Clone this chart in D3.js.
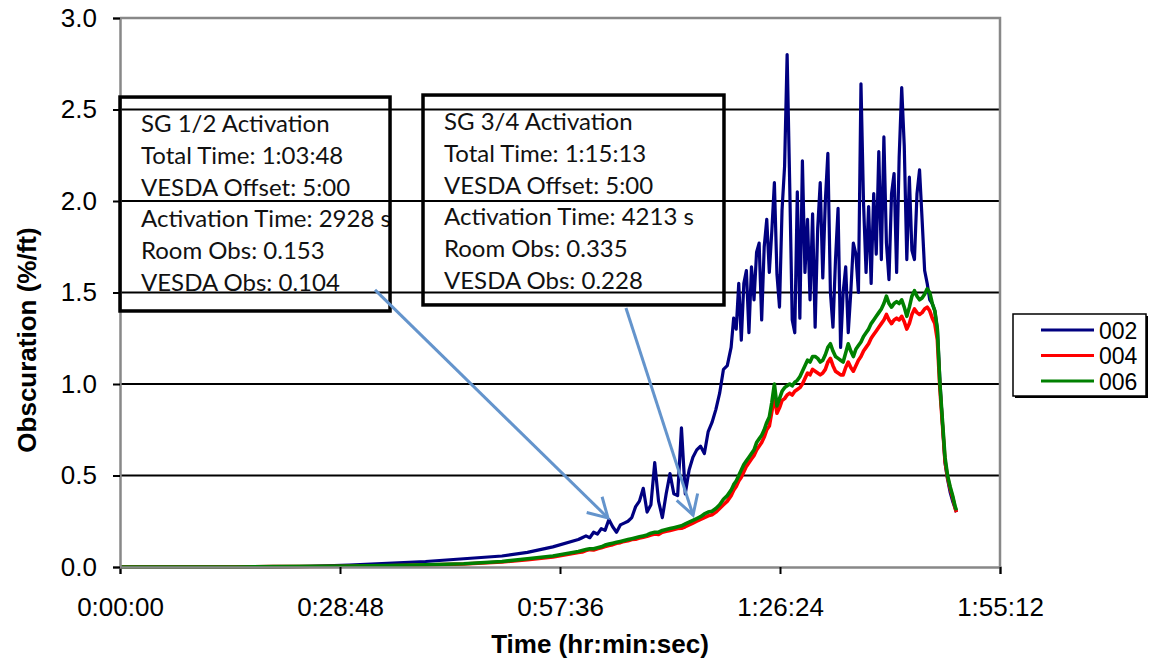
<!DOCTYPE html>
<html>
<head>
<meta charset="utf-8">
<script src="https://cdn.jsdelivr.net/npm/d3@7"></script>
<style>
  body { margin: 0; background: #ffffff; }
  svg { display: block; }
</style>
</head>
<body>
<svg id="chart" width="1157" height="660"></svg>
<script>
// Sample times (seconds from start of test)
const timeSec = [
  0, 300, 600, 900, 1200, 1500, 1800, 2100, 2400, 2700, 3000, 3200, 3400, 3600,
  3630, 3660, 3690, 3720, 3750, 3780, 3810, 3840, 3870, 3900,
  3930, 3960, 3990, 4020, 4050, 4080, 4110, 4140, 4170, 4200,
  4230, 4260, 4290, 4320, 4350, 4380, 4410, 4440, 4470, 4500,
  4530, 4560, 4590, 4620, 4650, 4680, 4710, 4740, 4770, 4800,
  4820, 4840, 4860, 4880, 4900, 4920, 4940, 4960, 4980, 5000,
  5020, 5040, 5060, 5080, 5100, 5120, 5140, 5160, 5180, 5200,
  5220, 5240, 5260, 5280, 5300, 5320, 5340, 5360, 5380, 5400,
  5420, 5440, 5460, 5480, 5500, 5520, 5540, 5560, 5580, 5600,
  5620, 5640, 5660, 5680, 5700, 5720, 5740, 5760, 5780, 5800,
  5820, 5840, 5860, 5880, 5900, 5920, 5940, 5960, 5980, 6000,
  6020, 6040, 6060, 6080, 6100, 6120, 6140, 6160, 6180, 6200,
  6220, 6240, 6260, 6280, 6300, 6320, 6340, 6360, 6380, 6400,
  6420, 6440, 6460, 6480, 6500, 6520, 6540, 6560, 6570
];

// Obscuration (%/ft), detector 002
const obs002 = [
  0, 0, 0, 0, 0, 0.003, 0.01, 0.02, 0.03, 0.045, 0.06, 0.08, 0.11, 0.15,
  0.16, 0.17, 0.16, 0.19, 0.18, 0.21, 0.20, 0.26, 0.22, 0.19,
  0.23, 0.24, 0.25, 0.27, 0.33, 0.36, 0.43, 0.30, 0.34, 0.57,
  0.36, 0.27, 0.40, 0.51, 0.40, 0.39, 0.76, 0.40, 0.53, 0.60,
  0.64, 0.66, 0.62, 0.74, 0.79, 0.86, 0.95, 1.08, 1.10, 1.20,
  1.36, 1.30, 1.55, 1.24, 1.55, 1.62, 1.28, 1.64, 1.46, 1.72,
  1.77, 1.35, 1.75, 1.90, 1.61, 1.84, 2.10, 1.60, 1.42, 1.95,
  2.19, 2.80, 2.10, 1.35, 1.28, 2.05, 1.36, 2.22, 1.61, 1.90,
  1.46, 1.93, 1.31, 1.85, 2.10, 1.58, 2.00, 2.26, 1.50, 1.31,
  1.68, 1.96, 1.20, 1.50, 1.64, 1.28, 1.50, 1.77, 1.71, 1.50,
  2.64, 1.99, 1.61, 1.97, 1.55, 2.04, 1.71, 2.27, 1.68, 2.35,
  1.77, 1.57, 2.04, 2.15, 1.61, 2.24, 2.62, 2.30, 1.68, 2.13,
  1.73, 1.68, 2.04, 2.17, 1.90, 1.62, 1.55, 1.46, 1.44, 1.40,
  1.30, 1.02, 0.78, 0.57, 0.48, 0.41, 0.36, 0.32, 0.30
];

// Obscuration (%/ft), detector 004
const obs004 = [
  0, 0, 0, 0, 0.002, 0.003, 0.004, 0.007, 0.011, 0.016, 0.027, 0.04, 0.055, 0.08,
  0.082, 0.09, 0.095, 0.093, 0.10, 0.105, 0.112, 0.118, 0.122, 0.13,
  0.133, 0.14, 0.143, 0.15, 0.152, 0.158, 0.163, 0.168, 0.175, 0.18,
  0.178, 0.19, 0.195, 0.20, 0.205, 0.21, 0.212, 0.22, 0.23, 0.24,
  0.25, 0.26, 0.27, 0.28, 0.285, 0.30, 0.32, 0.34, 0.36, 0.39,
  0.42, 0.44, 0.47, 0.49, 0.52, 0.55, 0.57, 0.59, 0.61, 0.64,
  0.66, 0.68, 0.71, 0.75, 0.77, 0.85, 0.93, 0.84, 0.87, 0.91,
  0.92, 0.94, 0.95, 0.94, 0.96, 0.97, 0.98, 1.00, 1.03, 1.06,
  1.05, 1.08, 1.07, 1.06, 1.05, 1.06, 1.08, 1.12, 1.14, 1.10,
  1.07, 1.06, 1.05, 1.05, 1.09, 1.12, 1.09, 1.07, 1.10, 1.13,
  1.15, 1.18, 1.20, 1.22, 1.25, 1.27, 1.29, 1.31, 1.33, 1.35,
  1.38, 1.35, 1.33, 1.35, 1.36, 1.35, 1.37, 1.34, 1.30, 1.33,
  1.38, 1.41, 1.39, 1.38, 1.39, 1.41, 1.42, 1.40, 1.36, 1.33,
  1.24, 0.97, 0.78, 0.58, 0.49, 0.43, 0.38, 0.32, 0.30
];

// Obscuration (%/ft), detector 006
const obs006 = [
  0, 0, 0, 0, 0.002, 0.004, 0.005, 0.008, 0.012, 0.018, 0.03, 0.045, 0.06, 0.085,
  0.09, 0.095, 0.10, 0.10, 0.105, 0.11, 0.12, 0.125, 0.13, 0.135,
  0.14, 0.145, 0.15, 0.155, 0.16, 0.165, 0.17, 0.175, 0.185, 0.19,
  0.19, 0.20, 0.205, 0.21, 0.215, 0.22, 0.225, 0.235, 0.245, 0.255,
  0.265, 0.275, 0.29, 0.30, 0.305, 0.32, 0.34, 0.37, 0.39, 0.42,
  0.45, 0.47, 0.50, 0.53, 0.56, 0.58, 0.60, 0.62, 0.64, 0.68,
  0.70, 0.72, 0.75, 0.79, 0.82, 0.90, 1.00, 0.88, 0.92, 0.96,
  0.98, 0.99, 1.00, 0.99, 1.01, 1.02, 1.04, 1.07, 1.10, 1.13,
  1.12, 1.15, 1.15, 1.14, 1.12, 1.13, 1.16, 1.20, 1.22, 1.18,
  1.15, 1.14, 1.13, 1.12, 1.17, 1.22, 1.18, 1.15, 1.19, 1.21,
  1.23, 1.26, 1.28, 1.30, 1.33, 1.35, 1.37, 1.39, 1.41, 1.44,
  1.48, 1.44, 1.42, 1.44, 1.45, 1.44, 1.46, 1.42, 1.37, 1.42,
  1.48, 1.51, 1.48, 1.46, 1.47, 1.49, 1.52, 1.50, 1.44, 1.40,
  1.30, 1.00, 0.80, 0.60, 0.50, 0.44, 0.39, 0.33, 0.31
];

const seriesNames = ["002", "004", "006"];
const xTickValues = [0, 1728, 3456, 5184, 6912];
const xTickLabels = ["0:00:00", "0:28:48", "0:57:36", "1:26:24", "1:55:12"];
const yTickValues = [0, 0.5, 1.0, 1.5, 2.0, 2.5, 3.0];

// Activation call-outs: text lines, box extent (time / obscuration) and arrow tail/tip
const sg12Lines = ["SG 1/2 Activation", "Total Time: 1:03:48", "VESDA Offset: 5:00",
                   "Activation Time: 2928 s", "Room Obs: 0.153", "VESDA Obs: 0.104"];
const sg34Lines = ["SG 3/4 Activation", "Total Time: 1:15:13", "VESDA Offset: 5:00",
                   "Activation Time: 4213 s", "Room Obs: 0.335", "VESDA Obs: 0.228"];
const callouts = [
  { lines: sg12Lines, box: [0, 2121, 2.568, 1.399], tail: [2003, 1.514], tip: [3833, 0.268] },
  { lines: sg34Lines, box: [2380, 4744, 2.579, 1.432], tail: [3974, 1.415], tip: [4501, 0.284] }
];

const colors = { "002": "#000080", "004": "#ff0000", "006": "#008000" };
const values = { "002": obs002, "004": obs004, "006": obs006 };

const svg = d3.select("#chart");
const plot = { left: 120, top: 18, right: 1000, bottom: 567 };

const x = d3.scaleLinear().domain([0, 6912]).range([plot.left, plot.right]);
const y = d3.scaleLinear().domain([0, 3]).range([plot.bottom, plot.top]);

svg.append("rect").attr("width", 1157).attr("height", 660).attr("fill", "#ffffff");

// Horizontal gridlines
svg.append("g")
  .selectAll("line")
  .data(yTickValues.filter(v => v > 0 && v < 3))
  .join("line")
  .attr("x1", plot.left).attr("x2", plot.right)
  .attr("y1", d => y(d)).attr("y2", d => y(d))
  .attr("stroke", "#000").attr("stroke-width", 2);

// Plot area frame (top and right)
svg.append("path")
  .attr("d", `M${plot.left},${y(3)}H${plot.right}V${plot.bottom}`)
  .attr("fill", "none").attr("stroke", "#888").attr("stroke-width", 2.5);

// Series lines
const line = d3.line().x((d, i) => x(timeSec[i])).y(d => y(d));
const seriesG = svg.append("g");
seriesNames.forEach(name => {
  seriesG.append("path")
    .datum(values[name])
    .attr("d", line)
    .attr("fill", "none")
    .attr("stroke", colors[name])
    .attr("stroke-width", name === "002" ? 3.2 : 3.6)
    .attr("stroke-linejoin", "round");
});

// Axes
const xAxis = d3.axisBottom(x)
  .tickValues(xTickValues)
  .tickFormat((d, i) => xTickLabels[i])
  .tickSize(7).tickPadding(24);
const gx = svg.append("g").attr("transform", `translate(0,${plot.bottom})`).call(xAxis);
gx.select(".domain").attr("stroke", "#888").attr("stroke-width", 2.5);
gx.selectAll(".tick line").attr("stroke", "#000").attr("stroke-width", 2);
gx.selectAll(".tick text")
  .attr("font-family", "'Liberation Sans', Arial, sans-serif")
  .attr("font-size", 26).attr("fill", "#000");

const yAxis = d3.axisLeft(y)
  .tickValues(yTickValues)
  .tickFormat(d3.format(".1f"))
  .tickSize(7).tickPadding(16);
const gy = svg.append("g").attr("transform", `translate(${plot.left},0)`).call(yAxis);
gy.select(".domain").attr("stroke", "#888").attr("stroke-width", 2.5);
gy.selectAll(".tick line").attr("stroke", "#000").attr("stroke-width", 2);
gy.selectAll(".tick text")
  .attr("font-family", "'Liberation Sans', Arial, sans-serif")
  .attr("font-size", 26).attr("fill", "#000");

// Axis titles
svg.append("text")
  .attr("transform", "translate(36,340) rotate(-90)")
  .attr("text-anchor", "middle")
  .attr("font-family", "'Liberation Sans', Arial, sans-serif")
  .attr("font-weight", "bold").attr("font-size", 26)
  .text("Obscuration (%/ft)");

svg.append("text")
  .attr("x", 600).attr("y", 653)
  .attr("text-anchor", "middle")
  .attr("font-family", "'Liberation Sans', Arial, sans-serif")
  .attr("font-weight", "bold").attr("font-size", 26)
  .text("Time (hr:min:sec)");

// Call-out boxes and arrows
const defs = svg.append("defs");
callouts.forEach((c, k) => {
  const [t0, t1, v0, v1] = c.box;
  const bx = x(t0), by = y(v0), bw = x(t1) - x(t0), bh = y(v1) - y(v0);

  defs.append("clipPath").attr("id", "clip" + k)
    .append("rect").attr("x", bx).attr("y", by).attr("width", bw).attr("height", bh);

  const g = svg.append("g");
  g.append("g").attr("clip-path", `url(#clip${k})`)
    .selectAll("text")
    .data(c.lines)
    .join("text")
    .attr("x", bx + 21)
    .attr("y", (d, i) => by + 35 + i * 31.8)
    .attr("font-family", "Lato, 'Open Sans', sans-serif")
    .attr("font-size", 24)
    .attr("fill", "#111")
    .text(d => d);

  g.append("rect")
    .attr("x", bx).attr("y", by).attr("width", bw).attr("height", bh)
    .attr("fill", "none").attr("stroke", "#000").attr("stroke-width", 3.5);

  // arrow shaft and open head
  const x1 = x(c.tail[0]), y1 = y(c.tail[1]);
  const x2 = x(c.tip[0]), y2 = y(c.tip[1]);
  const ang = Math.atan2(y2 - y1, x2 - x1);
  const headLen = 22, spread = Math.PI / 6;
  const wing = s => [x2 - headLen * Math.cos(ang + s), y2 - headLen * Math.sin(ang + s)];
  const w1 = wing(spread), w2 = wing(-spread);
  const arrow = svg.append("g")
    .attr("stroke", "#6494cc").attr("stroke-width", 3).attr("fill", "none")
    .attr("stroke-linecap", "butt");
  arrow.append("line").attr("x1", x1).attr("y1", y1).attr("x2", x2).attr("y2", y2);
  arrow.append("path").attr("d", `M${w1[0]},${w1[1]}L${x2},${y2}L${w2[0]},${w2[1]}`);
});

// Legend
const legend = svg.append("g").attr("transform", "translate(1013,314)");
legend.append("rect").attr("x", 2).attr("y", 2).attr("width", 133).attr("height", 82).attr("fill", "#000");
legend.append("rect").attr("width", 133).attr("height", 82)
  .attr("fill", "#fff").attr("stroke", "#000").attr("stroke-width", 1.5);
seriesNames.forEach((name, i) => {
  const ly = 16 + i * 25.5;
  legend.append("line")
    .attr("x1", 28).attr("x2", 81).attr("y1", ly).attr("y2", ly)
    .attr("stroke", colors[name]).attr("stroke-width", 3);
  legend.append("text")
    .attr("x", 86).attr("y", ly + 8.5)
    .attr("font-family", "'Liberation Sans', Arial, sans-serif")
    .attr("font-size", 23)
    .text(name);
});
</script>
</body>
</html>
